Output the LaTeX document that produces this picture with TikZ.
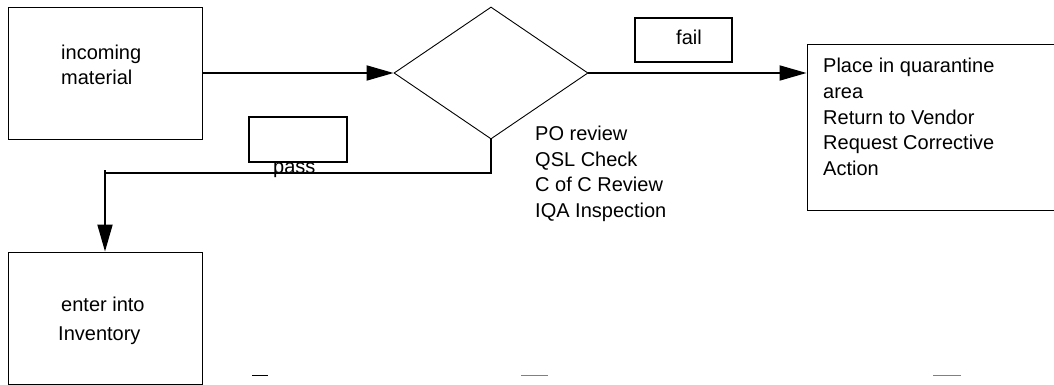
\documentclass[tikz,border=0pt]{standalone}
\usepackage{fontspec}
\setmainfont{Liberation Sans}
\usetikzlibrary{arrows.meta,shapes.geometric}
\begin{document}
\begin{tikzpicture}[x=1pt,y=-1pt,
  box/.style={draw, line width=0.9pt, inner sep=0pt},
  lblbox/.style={draw, line width=1.4pt, inner sep=0pt},
  txt/.style={inner sep=0pt, align=left, font=\fontsize{20}{25.5}\selectfont},
  conn/.style={line width=1.8pt},
  arr/.style={conn, -{Triangle[length=27pt,width=15pt]}}]
\useasboundingbox (0,0) rectangle (1054,385);
% boxes
\node[box, minimum width=194pt, minimum height=132pt] (inc) at (105,73) {};
\node[box, minimum width=194pt, minimum height=132pt] (inv) at (105,318) {};
\node[box, minimum width=260pt, minimum height=166pt] (quar) at (937,127) {};
\node[draw, line width=0.9pt, diamond, aspect=1.47, minimum width=194pt, minimum height=132pt, inner sep=0pt] (dec) at (491,73) {};
\node[lblbox, minimum width=98pt, minimum height=45pt] (passbox) at (298,139.5) {};
\node[lblbox, minimum width=97pt, minimum height=44pt] (failbox) at (683.5,40) {};
% texts (base anchor = baseline of last line)
\node[txt, anchor=base west] (inctxt) at (61,85) {incoming\\material};
\node[txt, anchor=base west] (invtxt) at (61,340) {enter into\\[3.5pt]\hspace*{-3pt}Inventory};
\node[txt, anchor=base west] (quartxt) at (823,175) {Place in quarantine\\area\\Return to Vendor\\Request Corrective\\Action};
\node[txt, anchor=base west] (potxt) at (535,217) {PO review\\QSL Check\\C of C Review\\IQA Inspection};
\node[txt, anchor=base west] (passtxt) at (273,173) {pass};
\node[txt, anchor=base west] (failtxt) at (676,45) {fail};
% connectors
\coordinate (c1) at (491,173);
\coordinate (c2) at (105,173);
\draw[arr] (inc.east) -- (dec.west);
\draw[arr] (dec.east) -- (quar.west |- dec.east);
\draw[conn] (dec.south) -- (c1) -- (c2);
\draw[arr] (105,170) -- (inv.north);
% small dashes
\draw[line width=1pt] (252,375) -- (268,375);
\draw[line width=1pt, gray] (521,375) -- (548,375);
\draw[line width=1pt, gray] (933,375) -- (961,375);
\end{tikzpicture}
\end{document}
